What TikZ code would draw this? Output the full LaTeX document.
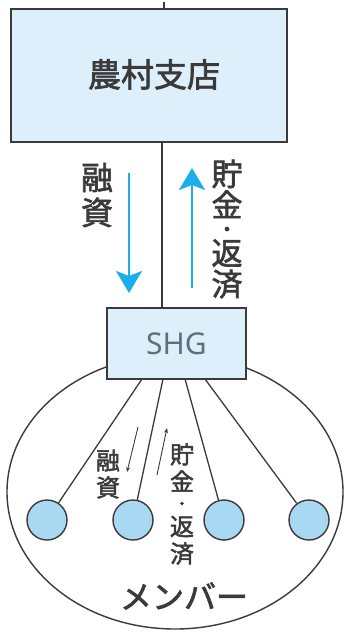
\documentclass[tikz,border=0pt]{standalone}
\usepackage{fontspec}
\setmainfont{Noto Sans CJK JP}[FakeBold=2]
\newfontfamily\latinsans{Noto Sans}
\usetikzlibrary{arrows.meta}
\definecolor{boxfill}{HTML}{DDEFFB}
\definecolor{dotfill}{HTML}{A9D9F2}
\definecolor{flowblue}{HTML}{1AAEEA}
\definecolor{inkgray}{HTML}{3A3A3A}
\definecolor{shgtext}{HTML}{5E6F80}
\begin{document}
\begin{tikzpicture}[x=1pt,y=-1pt,
  outline/.style={draw=inkgray, line width=1.4pt},
  bigbox/.style={outline, fill=boxfill, inner sep=0pt, text=inkgray},
  member/.style={outline, fill=dotfill, circle, minimum size=40pt, inner sep=0pt},
  conn/.style={draw=inkgray, line width=1.3pt},
  bigarrow/.style={draw=flowblue, line width=2.6pt, -{Stealth[length=22pt, width=26pt, inset=5pt]}},
  smallarrow/.style={draw=inkgray, line width=0.9pt, -{Stealth[length=5pt, width=4pt]}},
  vtext/.style={inner sep=0pt, align=center, text=inkgray},
]
\useasboundingbox (0,0) rectangle (347,632);
% member ellipse
\draw[outline] (175,492) ellipse [x radius=168pt, y radius=137pt];
% coordinates
\coordinate (stub) at (164,2);
\coordinate (vline) at (162,0);
\coordinate (s1) at (142,379);
\coordinate (s2) at (163,379);
\coordinate (s3) at (185,379);
\coordinate (s4) at (205,379);
% members
\node[member] (m1) at (47,520) {};
\node[member] (m2) at (133,520) {};
\node[member] (m3) at (224,520) {};
\node[member] (m4) at (309,520) {};
\draw[conn] (s1) -- (m1);
\draw[conn] (s2) -- (m2);
\draw[conn] (s3) -- (m3);
\draw[conn] (s4) -- (m4);
% boxes
\node[bigbox, minimum width=276pt, minimum height=133pt,
      font=\fontsize{33}{36}\selectfont] (bank) at (149,75.5) {\raisebox{5pt}{\hspace{10pt}農村支店}};
\node[bigbox, minimum width=139pt, minimum height=71pt,
      font=\latinsans\fontsize{30}{32}\selectfont, text=shgtext] (shg) at (176.5,343.5) {SHG};
\draw[conn] (bank.south -| vline) -- (shg.north -| vline);
\draw[conn] (bank.north -| stub) -- (stub);
% big flows
\coordinate (a1s) at (129,173);
\coordinate (a1e) at (129,293);
\coordinate (a2s) at (192,288);
\coordinate (a2e) at (192,168);
\draw[bigarrow] (a1s) -- (a1e);
\draw[bigarrow] (a2s) -- (a2e);
\node[vtext, font=\fontsize{32}{35}\selectfont] (loan) at (97,195) {融\\資};
\node[vtext, font=\fontsize{31}{31}\selectfont] (save) at (227,229)
  {貯\\金\\[-11pt]{\fontsize{20}{20}\selectfont ・}\\[-3pt]返\\済};
% small flows
\coordinate (b1s) at (138,427);
\coordinate (b1e) at (127,472);
\coordinate (b2s) at (157,475);
\coordinate (b2e) at (167,428);
\draw[smallarrow] (b1s) -- (b1e);
\draw[smallarrow] (b2s) -- (b2e);
\node[vtext, font=\fontsize{24}{27}\selectfont] (sloan) at (108,474) {融\\資};
\node[vtext, font=\fontsize{24}{27}\selectfont] (ssave) at (182,504)
  {貯\\金\\[-8.3pt]{\fontsize{15}{15}\selectfont ・}\\[-0.7pt]返\\済};
\node[vtext, font=\fontsize{32}{34}\selectfont] (members) at (184,596) {メンバー};
\end{tikzpicture}
\end{document}
